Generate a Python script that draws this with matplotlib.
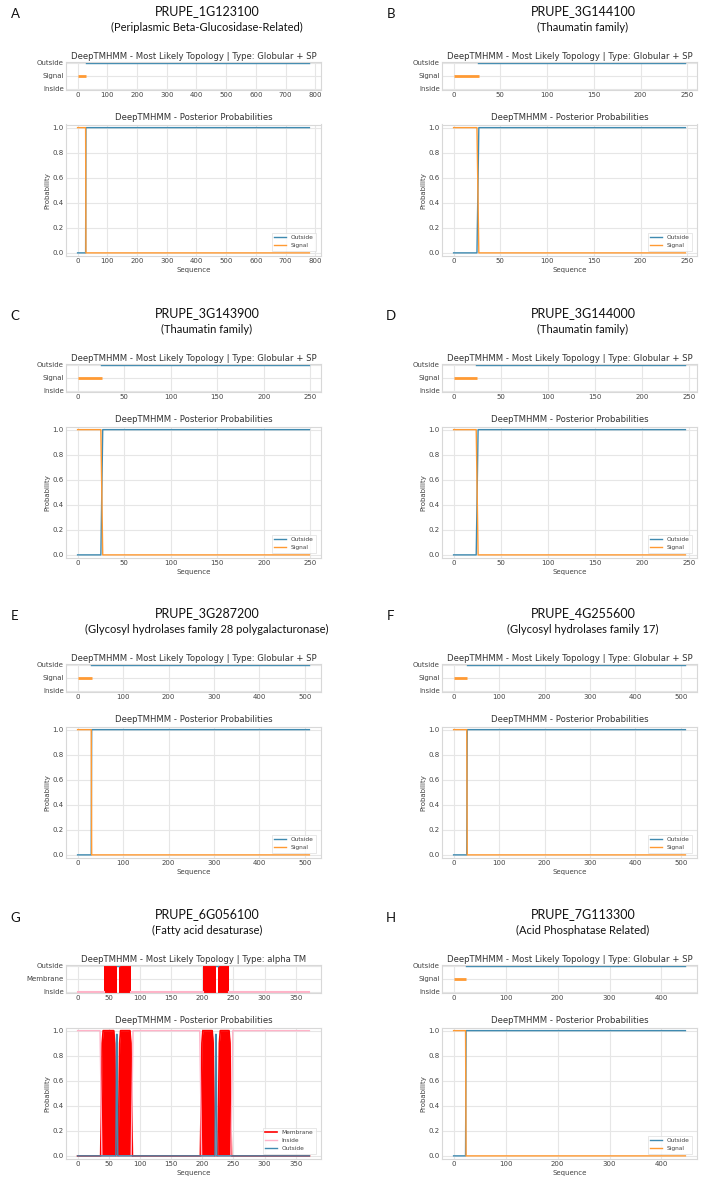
import matplotlib
matplotlib.use('Agg')
import matplotlib.pyplot as plt
from matplotlib.ticker import MultipleLocator

# ---- data ----
panel_letters = ['A', 'B', 'C', 'D', 'E', 'F', 'G', 'H']
gene_ids = ['PRUPE_1G123100', 'PRUPE_3G144100', 'PRUPE_3G143900', 'PRUPE_3G144000',
            'PRUPE_3G287200', 'PRUPE_4G255600', 'PRUPE_6G056100', 'PRUPE_7G113300']
families = ['(Periplasmic Beta-Glucosidase-Related)', '(Thaumatin family)',
            '(Thaumatin family)', '(Thaumatin family)',
            '(Glycosyl hydrolases family 28 polygalacturonase)',
            '(Glycosyl hydrolases family 17)', '(Fatty acid desaturase)',
            '(Acid Phosphatase Related)']
topo_types = ['Globular + SP', 'Globular + SP', 'Globular + SP', 'Globular + SP',
              'Globular + SP', 'Globular + SP', 'alpha TM', 'Globular + SP']
seq_len = [780, 248, 249, 246, 510, 510, 372, 446]
xtick_step = [100, 50, 50, 50, 100, 100, 50, 100]

# signal peptide end in the topology track
sp_end = [28, 27, 26, 25, 31, 30, None, 24]
# posterior: signal 1 -> 0 and outside 0 -> 1 between these residues
sp_switch_start = [27, 25, 25, 24, 30, 29, None, 23]
sp_switch_end = [28, 27, 27, 26, 31, 30, None, 24]

# panel G (alpha TM) topology
g_tm_segments = [(42, 63), (66, 86), (201, 222), (225, 243)]
g_out_segments = [(63, 66), (222, 225)]
g_in_segments = [(0, 42), (86, 201), (243, 372)]

# panel G posterior probabilities
g_mem_x = [0, 37, 38.5, 39.5, 41, 58, 59.5, 60.5, 62,
           65, 66.5, 67.5, 69, 84, 85.5, 86.5, 88,
           197, 198.5, 199.5, 201, 216, 217.5, 218.5, 220,
           225, 226.5, 227.5, 229, 243, 244.5, 245.5, 247, 372]
g_mem_y = [0, 0, 0.5, 0.9, 1, 1, 0.9, 0.5, 0,
           0, 0.5, 0.9, 1, 1, 0.9, 0.5, 0,
           0, 0.5, 0.9, 1, 1, 0.9, 0.5, 0,
           0, 0.5, 0.9, 1, 1, 0.9, 0.5, 0, 0]
g_in_x = [0, 36, 37.5, 39, 86, 87.5, 89, 196, 197.5, 199, 246, 247.5, 249, 372]
g_in_y = [1, 1, 0.5, 0, 0, 0.5, 1, 1, 0.5, 0, 0, 0.5, 1, 1]
g_out_x = [0, 61.5, 62.5, 63.5, 64.5, 220.5, 221.5, 222.5, 223.5, 372]
g_out_y = [0, 0, 0.97, 0.97, 0, 0, 0.97, 0.97, 0, 0]

# ---- style ----
OUT_C = '#3f8ab0'
SIG_C = '#ff9a33'
MEM_C = '#ff0000'
IN_C = '#ffb3c8'
GRID_C = '#e6e6e6'
TXT_C = '#444444'

W, H = 704, 1183
fig = plt.figure(figsize=(W / 100, H / 100), dpi=100)
fig.patch.set_facecolor('white')

row_dy = [0, 302, 602, 903]
col_x = [(66, 321), (442, 697)]
col_shift = [0, 376]


def px_axes(x0, y0, x1, y1):
    return fig.add_axes([x0 / W, 1 - y1 / H, (x1 - x0) / W, (y1 - y0) / H])


def style_ax(ax, step):
    ax.set_facecolor('white')
    ax.grid(True, color=GRID_C, lw=0.8)
    ax.set_axisbelow(True)
    for s in ax.spines.values():
        s.set_color('#d8d8d8')
        s.set_linewidth(0.8)
    ax.tick_params(length=0, labelsize=5, colors=TXT_C, pad=1.5)
    ax.xaxis.set_major_locator(MultipleLocator(step))
    ax.margins(x=0.05)


for i in range(8):
    r, c = i // 2, i % 2
    dy = row_dy[r]
    x0, x1 = col_x[c]
    sh = col_shift[c]
    L = seq_len[i]

    fig.text((15 + sh) / W, 1 - (14.5 + dy) / H, panel_letters[i], family='Lato',
             fontsize=9.5, ha='center', va='center', color='#111111')
    fig.text((207 + sh) / W, 1 - (11 + dy) / H, gene_ids[i], family='Lato',
             fontsize=9, ha='center', va='center', color='#111111')
    fig.text((207 + sh) / W, 1 - (27.5 + dy) / H, families[i], family='Lato',
             fontsize=8, ha='center', va='center', color='#111111')

    # most likely topology
    ax1 = px_axes(x0, dy + 61.5, x1, dy + 90)
    style_ax(ax1, xtick_step[i])
    if sp_end[i] is not None:
        ax1.plot([0, sp_end[i]], [1, 1], color=SIG_C, lw=2, solid_capstyle='butt')
        ax1.plot([sp_end[i] - 1, L], [2, 2], color=OUT_C, lw=1)
        ax1.set_yticks([0, 1, 2], ['Inside', 'Signal', 'Outside'])
    else:
        for a, b in g_in_segments:
            ax1.plot([a, b], [0, 0], color=IN_C, lw=1.5)
        for a, b in g_out_segments:
            ax1.plot([a, b], [2, 2], color=OUT_C, lw=1)
        for a, b in g_tm_segments:
            ax1.fill_between([a, b], [-0.2, -0.2], [2.2, 2.2], color=MEM_C, lw=0)
        ax1.set_yticks([0, 1, 2], ['Inside', 'Membrane', 'Outside'])
    ax1.set_ylim(-0.1, 2.1)
    ax1.set_title('DeepTMHMM - Most Likely Topology | Type: ' + topo_types[i],
                  fontsize=6.1, color='#333333', pad=2)

    # posterior probabilities
    ax2 = px_axes(x0, dy + 124.5, x1, dy + 256)
    style_ax(ax2, xtick_step[i])
    if sp_end[i] is not None:
        sx = [0, sp_switch_start[i], sp_switch_end[i], L]
        ax2.plot(sx, [0, 0, 1, 1], color=OUT_C, lw=1, label='Outside')
        ax2.plot(sx, [1, 1, 0, 0], color=SIG_C, lw=1, label='Signal')
    else:
        ax2.fill_between(g_mem_x, g_mem_y, color=MEM_C, lw=0)
        ax2.plot(g_mem_x, g_mem_y, color=MEM_C, lw=1.2, label='Membrane')
        ax2.plot(g_in_x, g_in_y, color=IN_C, lw=1, label='Inside')
        ax2.plot(g_out_x, g_out_y, color=OUT_C, lw=1, label='Outside')
    ax2.set_ylim(-0.025, 1.025)
    ax2.set_yticks([0, 0.2, 0.4, 0.6, 0.8, 1.0])
    ax2.set_title('DeepTMHMM - Posterior Probabilities', fontsize=6.1,
                  color='#333333', pad=3)
    ax2.set_xlabel('Sequence', fontsize=5, color=TXT_C, labelpad=2)
    ax2.set_ylabel('Probability', fontsize=5, color=TXT_C, labelpad=2)
    leg = ax2.legend(loc='lower right', fontsize=4.2, frameon=True, fancybox=False,
                     borderaxespad=0.9, handlelength=2, labelspacing=0.5)
    leg.get_frame().set_edgecolor('#dddddd')
    leg.get_frame().set_linewidth(0.6)
    for t in leg.get_texts():
        t.set_color(TXT_C)

fig.savefig('out.png', dpi=100)
